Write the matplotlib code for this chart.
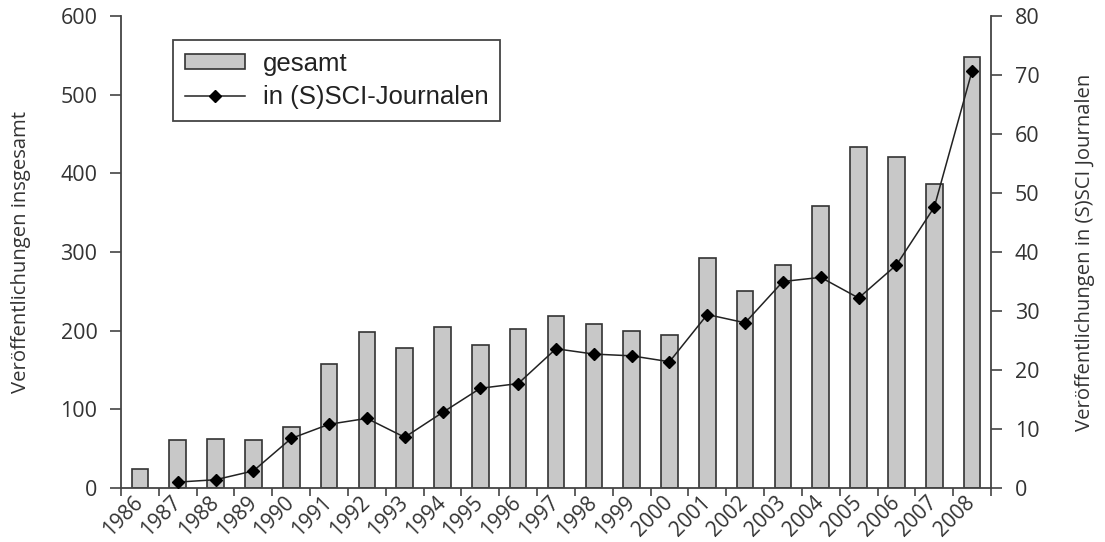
import matplotlib
matplotlib.use("Agg")
import matplotlib.pyplot as plt

years = [str(y) for y in range(1986, 2009)]
gesamt = [24, 61, 62, 61, 78, 158, 198, 178, 205, 182, 202, 219,
          209, 199, 195, 292, 250, 284, 359, 433, 421, 387, 548]
# SCI-Werte ab 1987
sci_years = years[1:]
sci = [1.0, 1.4, 2.9, 8.4, 10.8, 11.8, 8.6, 12.8, 16.9, 17.7, 23.6,
       22.7, 22.4, 21.4, 29.4, 28.0, 35.0, 35.7, 32.2, 37.8, 47.6, 70.7]

TXT = "#333333"
plt.rcParams["font.family"] = ["Open Sans", "DejaVu Sans"]

fig = plt.figure(figsize=(11.05, 5.42), dpi=100)
ax = fig.add_axes([121 / 1105, 1 - 488 / 542, 870 / 1105, 472 / 542])
ax2 = ax.twinx()

x = list(range(len(years)))
xi = {y: i for i, y in enumerate(years)}
bars = ax.bar(x, gesamt, width=0.44, color="#c8c8c8", edgecolor="#333333",
              linewidth=1.2, label="gesamt")
line, = ax2.plot([xi[y] for y in sci_years], sci, "-D", color="#222222",
                 lw=1.1, ms=6, mfc="black", mec="black",
                 label="in (S)SCI-Journalen")

ax.set_xlim(-0.5, len(years) - 0.5)
ax.set_ylim(0, 600)
ax2.set_ylim(0, 80)
ax.set_yticks(range(0, 601, 100))
ax2.set_yticks(range(0, 81, 10))

# Ticks an den Kategoriegrenzen, Beschriftung in der Mitte
ax.set_xticks([i - 0.5 for i in range(len(years) + 1)])
ax.set_xticklabels([])
ax.set_xticks(x, minor=True)
ax.set_xticklabels(years, minor=True, rotation=45, ha="right", va="center",
                   rotation_mode="anchor", fontsize=15, color=TXT)
ax.tick_params(axis="x", which="minor", length=0, pad=8)
ax.tick_params(axis="x", which="major", length=6, width=1.2, color="#444444")

for a in (ax, ax2):
    a.spines["top"].set_visible(False)
    for s in a.spines.values():
        s.set_linewidth(1.3)
        s.set_color("#444444")
ax.spines["right"].set_visible(False)
ax2.spines["left"].set_visible(False)
ax2.spines["bottom"].set_visible(False)

ax.tick_params(axis="y", length=8, width=1.2, color="#444444",
               labelsize=15.5, labelcolor=TXT, pad=9)
ax2.tick_params(axis="y", length=8, width=1.2, color="#444444",
                labelsize=15.5, labelcolor=TXT, pad=9)

ax.set_ylabel("Veröffentlichungen insgesamt", fontsize=14.6, color=TXT,
              labelpad=21)
ax2.set_ylabel("Veröffentlichungen in (S)SCI Journalen", fontsize=14.6,
               color=TXT, labelpad=26)

leg = ax2.legend([bars, line], ["gesamt", "in (S)SCI-Journalen"],
                 loc="upper left", bbox_to_anchor=(0.06, 0.949),
                 borderaxespad=0, fancybox=False, framealpha=1,
                 edgecolor="#444444", handlelength=2.35, handleheight=0.57,
                 handletextpad=0.7, labelspacing=0.38, borderpad=0.45,
                 prop={"family": "Liberation Sans", "size": 18.5})
leg.get_frame().set_linewidth(1.3)
for t in leg.get_texts():
    t.set_color("#222222")

fig.savefig("out.png", dpi=100)
